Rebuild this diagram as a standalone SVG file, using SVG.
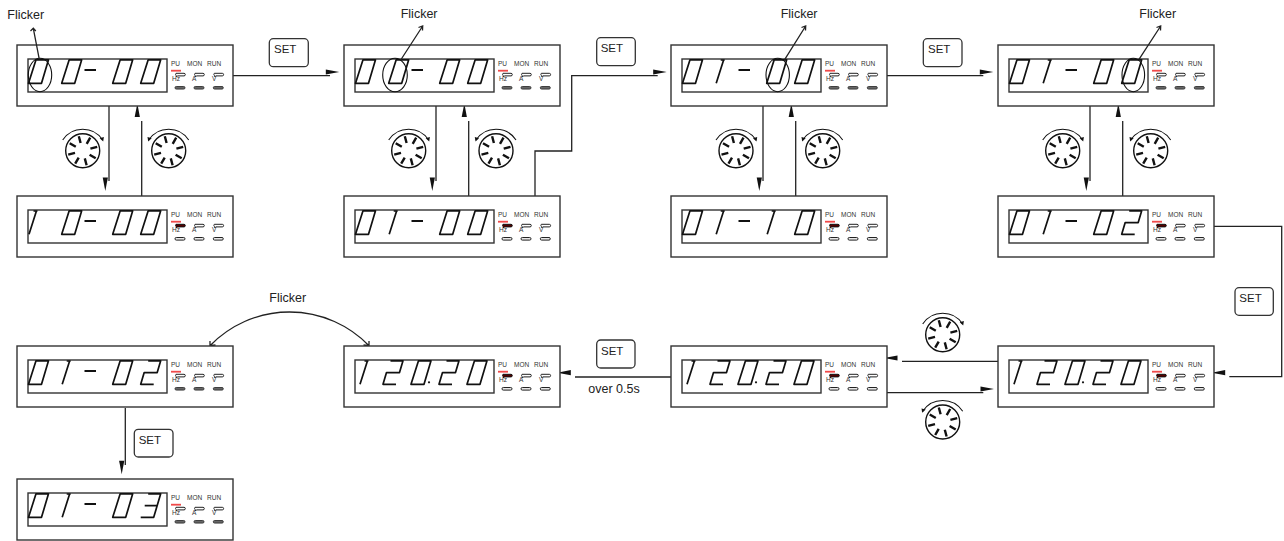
<svg xmlns="http://www.w3.org/2000/svg" xmlns:xlink="http://www.w3.org/1999/xlink" width="1284" height="541" viewBox="0 0 1284 541">
<style>
text{font-family:"Liberation Sans",Arial,sans-serif;fill:#222}
.p{fill:#fff;stroke:#333;stroke-width:1.4}
.seg{fill:none;stroke:#111;stroke-width:1.7;stroke-linejoin:round}
.l{font-size:6.5px;fill:#333}
.t{font-size:12.5px}
.k{font-size:11.5px}
.c{fill:none;stroke:#222;stroke-width:1.3}
.h{fill:#111;stroke:none}
.bar{fill:#f04a4a}
.pill{fill:#fff;stroke:#222;stroke-width:1}
.on{fill:#500;stroke:#111;stroke-width:1}
.g{fill:#666;stroke:#333;stroke-width:.9}
.w{fill:#e8e8e8;stroke:#222;stroke-width:1}
.key{fill:#fff;stroke:#333;stroke-width:1.3}
.tick{fill:none;stroke:#111;stroke-width:2.4}
</style>
<defs>
<path id="d0" class="seg" d="M7.5,0H20L13,23.5H0Z"/>
<path id="d1" class="seg" d="M0.5,23.5L8,0M5,0.2H9"/>
<path id="d2" class="seg" d="M7.5,0H20L16.5,11.75H3.5L0,23.5H13"/>
<path id="d3" class="seg" d="M7.5,0H20L13,23.5H0M4,11.75H16.5"/>
<path id="dash" fill="none" stroke="#111" stroke-width="2" d="M67.5,25H79"/>
<path id="top" d="M1,0H9a1.3,1.3 0 0 1 0,2.6H2.4L1.6,3.6L1.2,2.4Q0,1 1,0Z"/>
<rect id="low" width="10" height="2.6" rx="1.3"/>
<g id="wheel"><circle r="17" fill="#fff" stroke="#111" stroke-width="1.4"/><path class="tick" d="M-2.1-7.7L-3.9-14.5M4-6.9L7.5-13M7.7-2.1L14.5-3.9M6.9,4L13,7.5M2.1,7.7L3.9,14.5M-4,6.9L-7.5,13M-7.7,2.1L-14.5,3.9M-6.9-4L-13-7.5"/></g>
<g id="kcw"><use href="#wheel"/><path d="M-20-10.7A24,24 0 0 1 20-10.7" fill="none" stroke="#111" stroke-width="1.1"/><path class="h" d="M17-12.5L20.5-9.3L21.2-13.6Z"/></g>
<g id="kccw"><use href="#wheel"/><path d="M20-10.7A24,24 0 0 0 -20-10.7" fill="none" stroke="#111" stroke-width="1.1"/><path class="h" d="M-17-12.5L-20.5-9.3L-21.2-13.6Z"/></g>
<polygon id="ah" class="h" points="-13.5,-2.6 0,0 -13.5,2.6"/>
<g id="frame"><rect class="p" x="0" y="0" width="216" height="61"/><rect class="p" x="11" y="14" width="139" height="33"/><rect class="bar" x="154" y="24.8" width="10" height="1.8"/><use href="#dash"/></g>
<g id="lampsG"><use href="#top" class="pill" x="158" y="28.3"/><use href="#top" class="pill" x="177" y="28.3"/><use href="#top" class="pill" x="196.3" y="28.3"/><use href="#low" class="g" x="158" y="41.5"/><use href="#low" class="g" x="177" y="41.5"/><use href="#low" class="g" x="196.3" y="41.5"/></g>
<g id="lampsW"><use href="#top" class="on" x="158" y="28.3"/><use href="#top" class="pill" x="177" y="28.3"/><use href="#top" class="pill" x="196.3" y="28.3"/><use href="#low" class="w" x="158" y="41.5"/><use href="#low" class="w" x="177" y="41.5"/><use href="#low" class="w" x="196.3" y="41.5"/></g>
</defs>
<rect width="1284" height="541" fill="#fff"/>

<g id="connectors">
<path class="c" d="M233,75.7H330"/><use href="#ah" transform="translate(339.3,72)"/>
<path class="c" d="M535,196V151H571.7V75.7H657.7"/><use href="#ah" transform="translate(666.7,72)"/>
<path class="c" d="M887,75.7H983.3"/><use href="#ah" transform="translate(993.3,72)"/>
<path class="c" d="M1214,226.3H1281.7V376.7H1229.3"/><use href="#ah" transform="translate(1211.7,372.7) rotate(180)"/>
<path class="c" d="M998,361.3H902"/><use href="#ah" transform="translate(884,358) rotate(180)"/>
<path class="c" d="M887,392.7H983.3"/><use href="#ah" transform="translate(994,389)"/>
<path class="c" d="M671,377H575"/><use href="#ah" transform="translate(557.3,372.7) rotate(180)"/>
<path class="c" d="M125.3,408V465"/><use href="#ah" transform="translate(121.7,474.3) rotate(90)"/>
<path class="c" d="M109,106V181"/><use href="#ah" transform="translate(105.3,191) rotate(90)"/>
<path class="c" d="M141.7,196V121"/><use href="#ah" transform="translate(137.3,103.5) rotate(-90)"/>
<path class="c" d="M436,106V181"/><use href="#ah" transform="translate(432.3,191) rotate(90)"/>
<path class="c" d="M468.7,196V121"/><use href="#ah" transform="translate(464.3,103.5) rotate(-90)"/>
<path class="c" d="M763,106V181"/><use href="#ah" transform="translate(759.3,191) rotate(90)"/>
<path class="c" d="M795.7,196V121"/><use href="#ah" transform="translate(791.3,103.5) rotate(-90)"/>
<path class="c" d="M1090,106V181"/><use href="#ah" transform="translate(1086.3,191) rotate(90)"/>
<path class="c" d="M1122.7,196V121"/><use href="#ah" transform="translate(1118.3,103.5) rotate(-90)"/>
<path class="c" d="M210,345.7A110.6,110.6 0 0 1 369,345.7M210,341L210,345.7L215.5,345M369,341L369,345.7L363.5,345"/>
</g>

<g id="n1" transform="translate(17,45)"><use href="#frame"/><use href="#lampsG"/><use href="#d0" x="11.5" y="14.8"/><use href="#d0" x="44.7" y="14.8"/><use href="#d0" x="95.7" y="14.8"/><use href="#d0" x="123.7" y="14.8"/><text class="l" x="154" y="20.5">PU</text><text class="l" x="170" y="20.5">MON</text><text class="l" x="190" y="20.5">RUN</text><text class="l" x="155" y="36">Hz</text><text class="l" x="175" y="36">A</text><text class="l" x="195" y="36">V</text></g>
<g id="n2" transform="translate(344,45)"><use href="#frame"/><use href="#lampsG"/><use href="#d0" x="11.5" y="14.8"/><use href="#d0" x="44.7" y="14.8"/><use href="#d0" x="95.7" y="14.8"/><use href="#d0" x="123.7" y="14.8"/><text class="l" x="154" y="20.5">PU</text><text class="l" x="170" y="20.5">MON</text><text class="l" x="190" y="20.5">RUN</text><text class="l" x="155" y="36">Hz</text><text class="l" x="175" y="36">A</text><text class="l" x="195" y="36">V</text></g>
<g id="n3" transform="translate(671,45)"><use href="#frame"/><use href="#lampsG"/><use href="#d0" x="11.5" y="14.8"/><use href="#d1" x="44.7" y="14.8"/><use href="#d0" x="95.7" y="14.8"/><use href="#d0" x="123.7" y="14.8"/><text class="l" x="154" y="20.5">PU</text><text class="l" x="170" y="20.5">MON</text><text class="l" x="190" y="20.5">RUN</text><text class="l" x="155" y="36">Hz</text><text class="l" x="175" y="36">A</text><text class="l" x="195" y="36">V</text></g>
<g id="n4" transform="translate(998,45)"><use href="#frame"/><use href="#lampsG"/><use href="#d0" x="11.5" y="14.8"/><use href="#d1" x="44.7" y="14.8"/><use href="#d0" x="95.7" y="14.8"/><use href="#d0" x="123.7" y="14.8"/><text class="l" x="154" y="20.5">PU</text><text class="l" x="170" y="20.5">MON</text><text class="l" x="190" y="20.5">RUN</text><text class="l" x="155" y="36">Hz</text><text class="l" x="175" y="36">A</text><text class="l" x="195" y="36">V</text></g>

<g id="n5" transform="translate(17,196)"><use href="#frame"/><use href="#lampsW"/><use href="#d1" x="11.5" y="14.8"/><use href="#d0" x="44.7" y="14.8"/><use href="#d0" x="95.7" y="14.8"/><use href="#d0" x="123.7" y="14.8"/><text class="l" x="154" y="20.5">PU</text><text class="l" x="170" y="20.5">MON</text><text class="l" x="190" y="20.5">RUN</text><text class="l" x="155" y="36">Hz</text><text class="l" x="175" y="36">A</text><text class="l" x="195" y="36">V</text></g>
<g id="n6" transform="translate(344,196)"><use href="#frame"/><use href="#lampsW"/><use href="#d0" x="11.5" y="14.8"/><use href="#d1" x="44.7" y="14.8"/><use href="#d0" x="95.7" y="14.8"/><use href="#d0" x="123.7" y="14.8"/><text class="l" x="154" y="20.5">PU</text><text class="l" x="170" y="20.5">MON</text><text class="l" x="190" y="20.5">RUN</text><text class="l" x="155" y="36">Hz</text><text class="l" x="175" y="36">A</text><text class="l" x="195" y="36">V</text></g>
<g id="n7" transform="translate(671,196)"><use href="#frame"/><use href="#lampsW"/><use href="#d0" x="11.5" y="14.8"/><use href="#d1" x="44.7" y="14.8"/><use href="#d1" x="95.7" y="14.8"/><use href="#d0" x="123.7" y="14.8"/><text class="l" x="154" y="20.5">PU</text><text class="l" x="170" y="20.5">MON</text><text class="l" x="190" y="20.5">RUN</text><text class="l" x="155" y="36">Hz</text><text class="l" x="175" y="36">A</text><text class="l" x="195" y="36">V</text></g>
<g id="n8" transform="translate(998,196)"><use href="#frame"/><use href="#lampsW"/><use href="#d0" x="11.5" y="14.8"/><use href="#d1" x="44.7" y="14.8"/><use href="#d0" x="95.7" y="14.8"/><use href="#d2" x="123.7" y="14.8"/><text class="l" x="154" y="20.5">PU</text><text class="l" x="170" y="20.5">MON</text><text class="l" x="190" y="20.5">RUN</text><text class="l" x="155" y="36">Hz</text><text class="l" x="175" y="36">A</text><text class="l" x="195" y="36">V</text></g>

<g id="n9" transform="translate(17,346)"><use href="#frame"/><use href="#lampsG"/><use href="#d0" x="11.5" y="14.8"/><use href="#d1" x="44.7" y="14.8"/><use href="#d0" x="95.7" y="14.8"/><use href="#d2" x="123.7" y="14.8"/><text class="l" x="154" y="20.5">PU</text><text class="l" x="170" y="20.5">MON</text><text class="l" x="190" y="20.5">RUN</text><text class="l" x="155" y="36">Hz</text><text class="l" x="175" y="36">A</text><text class="l" x="195" y="36">V</text></g>
<g id="n10" transform="translate(344,346)"><rect class="p" width="216" height="61"/><rect class="p" x="11" y="14" width="139" height="33"/><rect class="bar" x="154" y="24.8" width="10" height="1.8"/><use href="#lampsW"/><use href="#d1" x="15.5" y="14.8"/><use href="#d2" x="39" y="14.8"/><use href="#d0" x="67" y="14.8"/><circle cx="85" cy="36.3" r="1.1" fill="#111"/><use href="#d2" x="95" y="14.8"/><use href="#d0" x="123" y="14.8"/><text class="l" x="154" y="20.5">PU</text><text class="l" x="170" y="20.5">MON</text><text class="l" x="190" y="20.5">RUN</text><text class="l" x="155" y="36">Hz</text><text class="l" x="175" y="36">A</text><text class="l" x="195" y="36">V</text></g>
<g id="n11" transform="translate(671,346)"><rect class="p" width="216" height="61"/><rect class="p" x="11" y="14" width="139" height="33"/><rect class="bar" x="154" y="24.8" width="10" height="1.8"/><use href="#lampsW"/><use href="#d1" x="15.5" y="14.8"/><use href="#d2" x="39" y="14.8"/><use href="#d0" x="67" y="14.8"/><circle cx="85" cy="36.3" r="1.1" fill="#111"/><use href="#d2" x="95" y="14.8"/><use href="#d0" x="123" y="14.8"/><text class="l" x="154" y="20.5">PU</text><text class="l" x="170" y="20.5">MON</text><text class="l" x="190" y="20.5">RUN</text><text class="l" x="155" y="36">Hz</text><text class="l" x="175" y="36">A</text><text class="l" x="195" y="36">V</text></g>
<g id="n12" transform="translate(998,346)"><rect class="p" width="216" height="61"/><rect class="p" x="11" y="14" width="139" height="33"/><rect class="bar" x="154" y="24.8" width="10" height="1.8"/><use href="#lampsW"/><use href="#d1" x="15.5" y="14.8"/><use href="#d2" x="39" y="14.8"/><use href="#d0" x="67" y="14.8"/><circle cx="85" cy="36.3" r="1.1" fill="#111"/><use href="#d2" x="95" y="14.8"/><use href="#d0" x="123" y="14.8"/><text class="l" x="154" y="20.5">PU</text><text class="l" x="170" y="20.5">MON</text><text class="l" x="190" y="20.5">RUN</text><text class="l" x="155" y="36">Hz</text><text class="l" x="175" y="36">A</text><text class="l" x="195" y="36">V</text></g>
<g id="n13" transform="translate(17,479)"><use href="#frame"/><use href="#lampsG"/><use href="#d0" x="11.5" y="14.8"/><use href="#d1" x="44.7" y="14.8"/><use href="#d0" x="95.7" y="14.8"/><use href="#d3" x="123.7" y="14.8"/><text class="l" x="154" y="20.5">PU</text><text class="l" x="170" y="20.5">MON</text><text class="l" x="190" y="20.5">RUN</text><text class="l" x="155" y="36">Hz</text><text class="l" x="175" y="36">A</text><text class="l" x="195" y="36">V</text></g>

<g id="flicker1"><ellipse cx="40" cy="75" rx="11.7" ry="16.7" fill="none" stroke="#111" stroke-width="1.1"/><path class="c" d="M39.3,59.3L33.3,28.3M30.5,31L33.3,28.3L35.8,31"/><text class="t" x="7.3" y="19">Flicker</text></g>
<g id="flicker2"><ellipse cx="395" cy="75" rx="12.3" ry="16.7" fill="none" stroke="#111" stroke-width="1.1"/><path class="c" d="M400.7,60L422.7,26M418.5,27.5L422.7,26L422.5,30.5"/><text class="t" x="400.7" y="17.5">Flicker</text></g>
<g id="flicker3"><ellipse cx="777.7" cy="75" rx="11.7" ry="16.7" fill="none" stroke="#111" stroke-width="1.1"/><path class="c" d="M784,60.7L805.7,26M801.5,27.5L805.7,26L805.5,30.5"/><text class="t" x="780.7" y="18">Flicker</text></g>
<g id="flicker4"><ellipse cx="1133.3" cy="75" rx="11.3" ry="16.7" fill="none" stroke="#111" stroke-width="1.1"/><path class="c" d="M1139,59.3L1160.7,26M1156.5,27.5L1160.7,26L1160.5,30.5"/><text class="t" x="1139.3" y="18">Flicker</text></g>
<text id="flicker5" class="t" x="269.3" y="301.7">Flicker</text>
<text id="hold" class="t" x="588.3" y="393.3">over 0.5s</text>

<g id="set1"><rect class="key" x="269.3" y="38.7" width="39" height="28" rx="4"/><text class="k" x="274" y="53.3">SET</text></g>
<g id="set2"><rect class="key" x="596.7" y="37.7" width="38.6" height="28" rx="4"/><text class="k" x="600.7" y="52.3">SET</text></g>
<g id="set3"><rect class="key" x="923.3" y="38.7" width="38.7" height="28" rx="4"/><text class="k" x="928" y="53.3">SET</text></g>
<g id="set4"><rect class="key" x="1235" y="287.7" width="38.3" height="27.6" rx="4"/><text class="k" x="1239.3" y="302">SET</text></g>
<g id="set5"><rect class="key" x="596.7" y="340" width="38.3" height="28" rx="4"/><text class="k" x="601" y="355">SET</text></g>
<g id="set6"><rect class="key" x="134.3" y="429.3" width="38.7" height="27.7" rx="4"/><text class="k" x="138.7" y="444">SET</text></g>

<g id="knobs">
<use href="#kcw" x="82.7" y="150.7"/><use href="#kccw" x="168.7" y="150.7"/>
<use href="#kcw" x="408.7" y="150.7"/><use href="#kccw" x="496" y="150.7"/>
<use href="#kcw" x="736" y="150.7"/><use href="#kccw" x="822.7" y="150.7"/>
<use href="#kcw" x="1062.7" y="150.7"/><use href="#kccw" x="1150.7" y="150.7"/>
<use href="#kcw" x="942.7" y="334.7"/><use href="#kccw" x="942.7" y="422"/>
</g>
</svg>
